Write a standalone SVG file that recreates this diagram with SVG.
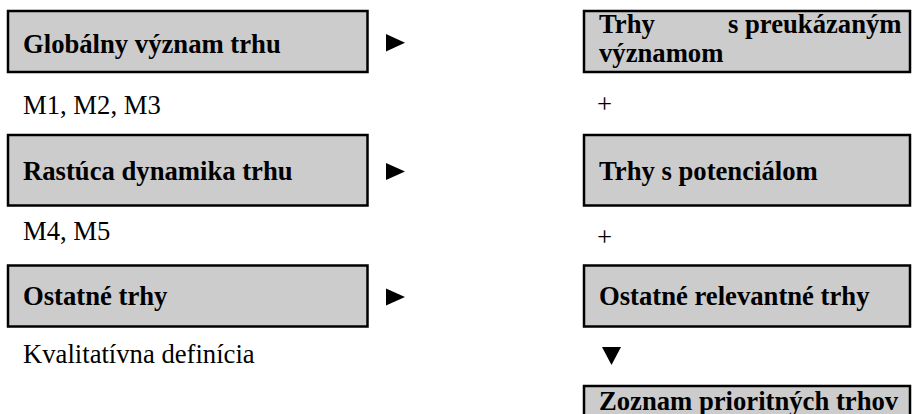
<svg xmlns="http://www.w3.org/2000/svg" width="912" height="414" viewBox="0 0 912 414">
<style>
.box{fill:#cccccc;stroke:#000;stroke-width:2.5}
.arr{fill:#000}
</style>
<rect width="912" height="414" fill="#fff"/>
<g id="n1"><rect class="box" x="8" y="11" width="359.5" height="61"/><text font-family="Liberation Serif" font-size="26.67" font-weight="bold" x="23" y="52.5">Globálny význam trhu</text></g>
<g id="n2"><rect class="box" x="8" y="135" width="359.5" height="70.5"/><text font-family="Liberation Serif" font-size="26.67" font-weight="bold" x="23" y="180">Rastúca dynamika trhu</text></g>
<g id="n3"><rect class="box" x="8" y="265.5" width="359.5" height="61"/><text font-family="Liberation Serif" font-size="26.67" font-weight="bold" x="23" y="305">Ostatné trhy</text></g>
<g id="n4"><rect class="box" x="584" y="11" width="326" height="61"/><text font-family="Liberation Serif" font-size="26.67" font-weight="bold"><tspan x="599" y="33">Trhy</tspan><tspan x="728" y="33">s preukázaným</tspan><tspan x="599" y="62">významom</tspan></text></g>
<g id="n5"><rect class="box" x="584" y="135" width="326" height="70.5"/><text font-family="Liberation Serif" font-size="26.67" font-weight="bold" x="599" y="180">Trhy s potenciálom</text></g>
<g id="n6"><rect class="box" x="584" y="265.5" width="326" height="61"/><text font-family="Liberation Serif" font-size="26.67" font-weight="bold" x="599" y="305">Ostatné relevantné trhy</text></g>
<g id="n7"><rect class="box" x="584" y="386" width="326" height="40"/><text font-family="Liberation Serif" font-size="26.67" font-weight="bold" x="599" y="410">Zoznam prioritných trhov</text></g>
<g id="labels">
<text font-family="Liberation Serif" font-size="26.67" x="23" y="114">M1, M2, M3</text>
<text font-family="Liberation Serif" font-size="26.67" x="23" y="240">M4, M5</text>
<text font-family="Liberation Serif" font-size="26.67" x="23" y="363">Kvalitatívna definícia</text>
<text font-family="Liberation Serif" font-size="26.67" x="597" y="113">+</text>
<text font-family="Liberation Serif" font-size="26.67" x="597" y="246">+</text>
</g>
<g id="connectors">
<polygon class="arr" points="386,34 405,42.7 386,51.5"/>
<polygon class="arr" points="386,163 405,171.5 386,180"/>
<polygon class="arr" points="386,288.5 405,297 386,305.5"/>
<polygon class="arr" points="602,347 621,347 611.5,365"/>
</g>
</svg>
